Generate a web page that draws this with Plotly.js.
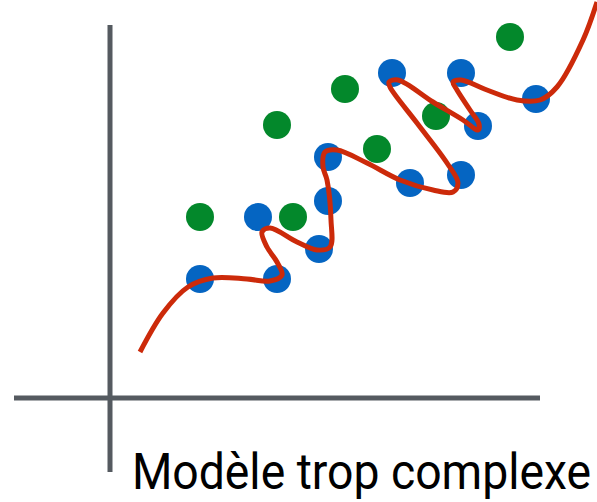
<!DOCTYPE html>
<html>
<head>
<meta charset="utf-8">
<script src="https://cdn.plot.ly/plotly-3.0.1.min.js"></script>
<style>
html,body{margin:0;padding:0;background:#fff;overflow:hidden;}
#chart{width:597px;height:502px;}
</style>
</head>
<body>
<div id="chart"></div>
<script>
// Data (arbitrary units, origin at the axes crossing)
const blueX = [1.8, 3.34, 2.96, 4.18, 4.36, 4.36, 5.64, 7.02, 6.0, 7.02, 7.36, 8.52];
const blueY = [2.38, 2.38, 3.62, 2.98, 3.94, 4.82, 6.5, 6.5, 4.3, 4.46, 5.44, 5.98];
const greenX = [1.8, 3.66, 3.34, 4.7, 5.34, 6.52, 8.0];
const greenY = [3.62, 3.62, 5.46, 6.18, 4.98, 5.64, 7.22];
const curveX = [0.6, 1.06, 1.56, 2.06, 2.74, 3.2, 3.44, 3.34, 3.14, 3.04, 3.2, 3.74, 4.14, 4.4, 4.42, 4.34, 4.26, 4.3, 4.54, 5.14, 5.8, 6.46, 6.86, 6.96, 6.74, 6.14, 5.6, 5.58, 5.76, 6.46, 7.06, 7.36, 7.38, 7.2, 6.94, 6.86, 7.02, 7.54, 8.14, 8.6, 8.94, 9.46, 9.74];
const curveY = [0.92, 1.7, 2.22, 2.4, 2.38, 2.34, 2.46, 2.72, 3.02, 3.32, 3.4, 3.12, 2.96, 3.02, 3.56, 4.36, 4.62, 4.92, 4.96, 4.7, 4.36, 4.16, 4.12, 4.3, 4.7, 5.5, 6.22, 6.32, 6.36, 5.92, 5.56, 5.36, 5.48, 5.76, 6.16, 6.32, 6.36, 6.16, 5.96, 5.96, 6.22, 7.16, 7.92];
const caption = "Modèle trop complexe";

const traces = [
  {x: greenX, y: greenY, mode: 'markers', type: 'scatter',
   marker: {size: 28, color: '#03882b', line: {width: 0}}, hoverinfo: 'skip'},
  {x: blueX, y: blueY, mode: 'markers', type: 'scatter',
   marker: {size: 28, color: '#0565c2', line: {width: 0}}, hoverinfo: 'skip'},
  {x: curveX, y: curveY, mode: 'lines', type: 'scatter',
   line: {color: '#cc2a0a', width: 5, shape: 'spline', smoothing: 1.0}, hoverinfo: 'skip'}
];

const axisColor = '#555a60';
const layout = {
  width: 597, height: 502,
  margin: {l: 0, r: 0, t: 0, b: 0},
  paper_bgcolor: '#fff', plot_bgcolor: '#fff',
  showlegend: false,
  xaxis: {range: [-2.2, 9.74], visible: false, fixedrange: true},
  yaxis: {range: [-2.08, 7.96], visible: false, fixedrange: true},
  shapes: [
    {type: 'line', xref: 'x', yref: 'y', x0: 0, x1: 0, y0: -1.48, y1: 7.46,
     line: {color: axisColor, width: 5}, layer: 'below'},
    {type: 'line', xref: 'x', yref: 'y', x0: -1.92, x1: 8.6, y0: 0, y1: 0,
     line: {color: axisColor, width: 5}, layer: 'below'}
  ],
  annotations: [
    {text: caption, xref: 'paper', yref: 'paper', x: 593 / 597, y: 0.058,
     xanchor: 'right', yanchor: 'middle', showarrow: false,
     font: {family: 'Roboto', size: 49, color: '#000'}}
  ]
};

Plotly.newPlot('chart', traces, layout, {staticPlot: true, displayModeBar: false}).then(function () {
  // narrow the caption horizontally (condensed look), anchored at its right edge
  const g = document.querySelector('#chart .annotation-text-g');
  if (g) {
    const prev = g.getAttribute('transform') || '';
    g.setAttribute('transform', 'translate(593,0) scale(0.945,1) translate(-593,0) ' + prev);
  }
});
</script>
</body>
</html>
